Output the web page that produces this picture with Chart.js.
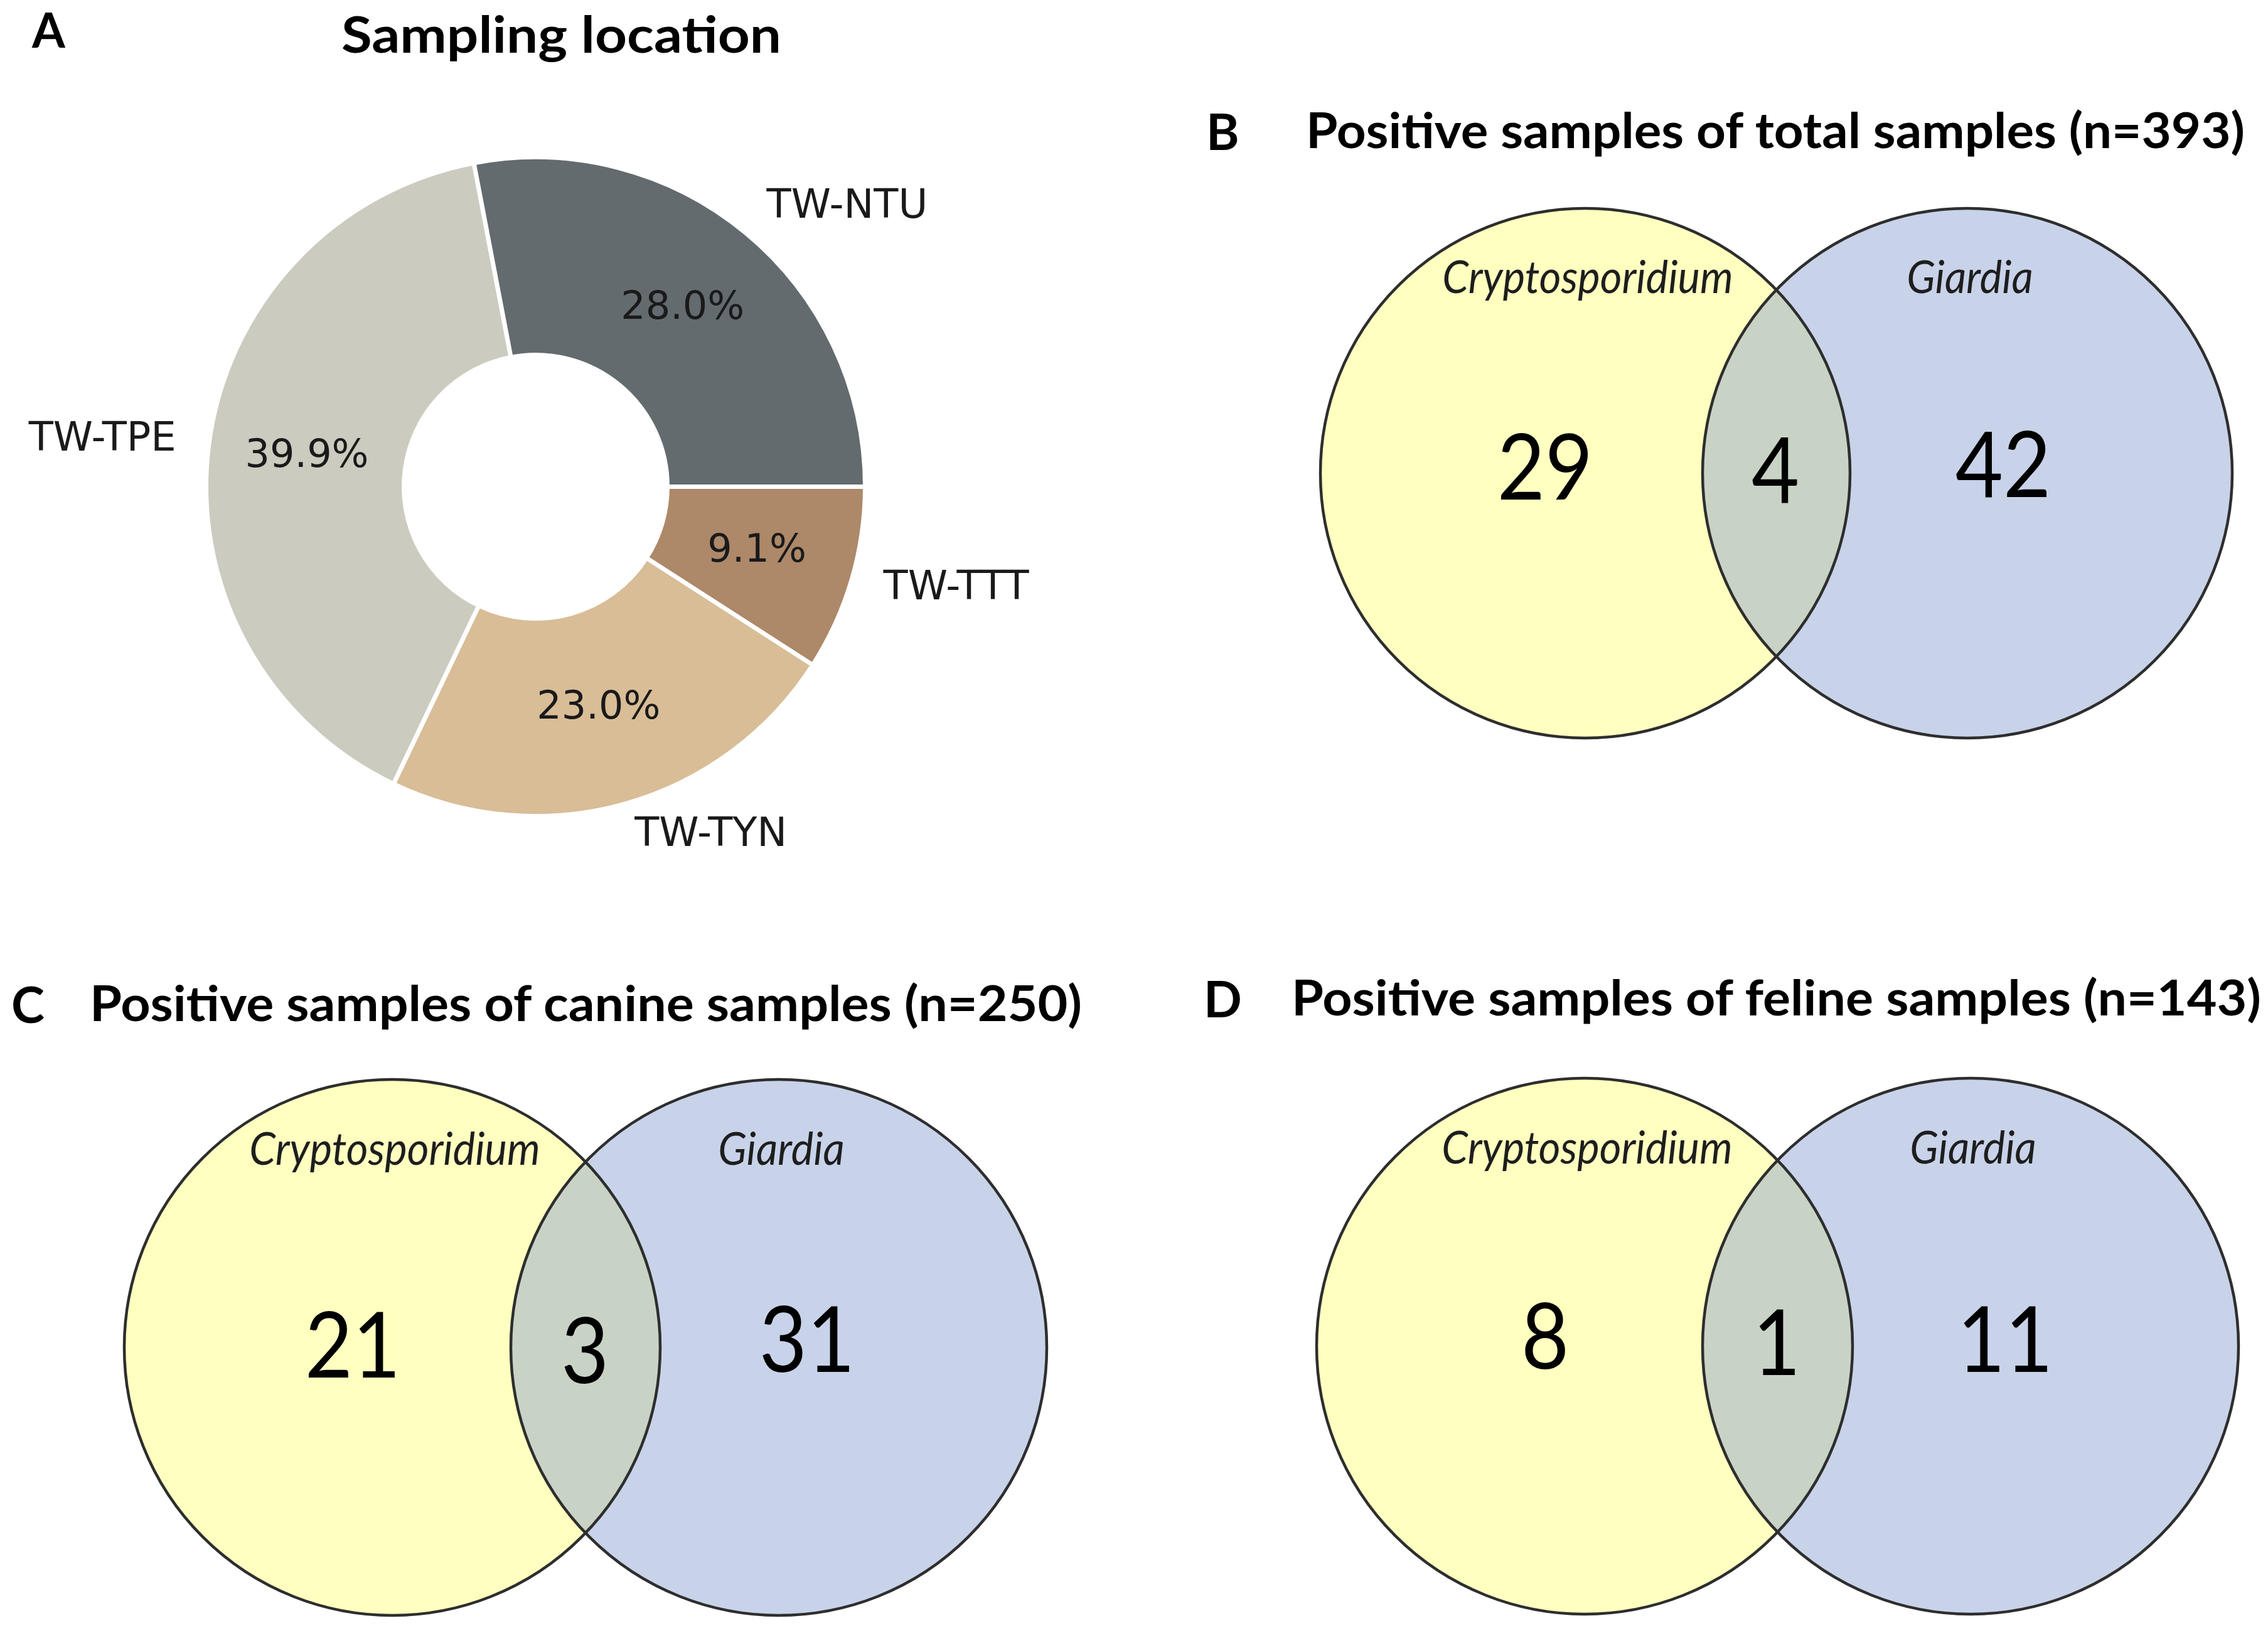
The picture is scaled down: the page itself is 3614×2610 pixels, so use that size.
<!DOCTYPE html>
<html>
<head>
<meta charset="utf-8">
<script src="https://cdn.jsdelivr.net/npm/chart.js@4.4.1/dist/chart.umd.min.js"></script>
<style>
  html, body { margin: 0; padding: 0; background: #fff; }
  body { width: 3614px; height: 2610px; position: relative; overflow: hidden; }
  canvas { position: absolute; }
  .head { position: absolute; font-family: Lato, sans-serif; font-weight: 700; line-height: 1;
          white-space: nowrap; color: #000; transform-origin: 0 0; z-index: 2; }
</style>
</head>
<body>
<canvas id="chartA" width="1800" height="1350" style="left:0px; top:100px"></canvas>
<canvas id="chartB" width="1564" height="920" style="left:2050px; top:300px"></canvas>
<canvas id="chartC" width="1600" height="930" style="left:150px; top:1680px"></canvas>
<canvas id="chartD" width="1564" height="930" style="left:2050px; top:1680px"></canvas>

<script>
// panel A: sampling location shares (%)
const locations = ['TW-NTU', 'TW-TPE', 'TW-TYN', 'TW-TTT'];
const locationShare = [28.0, 39.9, 23.0, 9.1];
const locationColors = ['#636b6f', '#cbcbbf', '#d8bd97', '#ad8869'];

// panels B-D: positive counts [Cryptosporidium only, both, Giardia only]
const setNames = ['Cryptosporidium', 'Giardia'];
const totalCounts = [29, 4, 42];
const canineCounts = [21, 3, 31];
const felineCounts = [8, 1, 11];

const headers = [
  { text: 'A', left: 51, base: 76, size: 76 },
  { text: 'Sampling location', left: 544, base: 84, size: 80, width: 701 },
  { text: 'B', left: 1922, base: 239, size: 80 },
  { text: 'Positive samples of total samples (n=393)', left: 2081, base: 236, size: 78, width: 1496 },
  { text: 'C', left: 18, base: 1630, size: 80 },
  { text: 'Positive samples of canine samples (n=250)', left: 143, base: 1627, size: 78, width: 1581 },
  { text: 'D', left: 1918, base: 1621, size: 80 },
  { text: 'Positive samples of feline samples (n=143)', left: 2058, base: 1618, size: 78, width: 1545 }
];

headers.forEach(h => {
  const el = document.createElement('div');
  el.className = 'head';
  el.textContent = h.text;
  el.style.fontSize = h.size + 'px';
  el.style.left = h.left + 'px';
  el.style.top = (h.base - 0.887 * h.size) + 'px';
  document.body.appendChild(el);
  if (h.width) {
    const w = el.getBoundingClientRect().width;
    el.style.transform = 'scaleX(' + (h.width / w) + ')';
  }
});

// ---------- donut (matplotlib-style: counter-clockwise from 3 o'clock) ----------
const cw = locations.map((_, i) => i).reverse();

const pieLabels = {
  id: 'pieLabels',
  afterDatasetsDraw(chart) {
    const ctx = chart.ctx;
    const ds = chart.data.datasets[0];
    chart.getDatasetMeta(0).data.forEach((arc, i) => {
      const p = arc.getProps(['x', 'y', 'startAngle', 'endAngle', 'outerRadius'], true);
      const mid = (p.startAngle + p.endAngle) / 2;
      const c = Math.cos(mid), s = Math.sin(mid);
      ctx.save();
      ctx.fillStyle = '#1a1a1a';
      ctx.font = '62px "DejaVu Sans"';
      ctx.textBaseline = 'middle';
      ctx.textAlign = 'center';
      ctx.fillText(ds.data[i].toFixed(1) + '%', p.x + c * p.outerRadius * 0.7, p.y + s * p.outerRadius * 0.7);
      ctx.font = '64px "DejaVu Sans"';
      ctx.textAlign = c >= 0 ? 'left' : 'right';
      ctx.fillText(chart.data.labels[i], p.x + c * p.outerRadius * 1.1, p.y + s * p.outerRadius * 1.1);
      ctx.restore();
    });
  }
};

new Chart(document.getElementById('chartA'), {
  type: 'doughnut',
  data: {
    labels: cw.map(i => locations[i]),
    datasets: [{
      data: cw.map(i => locationShare[i]),
      backgroundColor: cw.map(i => locationColors[i]),
      borderColor: '#ffffff',
      borderWidth: 7
    }]
  },
  options: {
    responsive: false,
    animation: false,
    events: [],
    rotation: 90,
    cutout: '40%',
    layout: { padding: { left: 325, right: 418, top: 147, bottom: 146 } },
    plugins: { legend: { display: false }, tooltip: { enabled: false } }
  },
  plugins: [pieLabels]
});

// ---------- Venn diagrams ----------
const vennPanels = [
  { id: 'chartB', counts: totalCounts, box: [2050, 300, 1564, 920],
    centers: [[2526, 754], [3135, 754]], radius: 422,
    countAt: [[2462, 749], [2829, 754], [3192, 745]] },
  { id: 'chartC', counts: canineCounts, box: [150, 1680, 1600, 930],
    centers: [[625, 2147], [1241, 2147]], radius: 427,
    countAt: [[562, 2148], [932, 2157], [1286, 2139]] },
  { id: 'chartD', counts: felineCounts, box: [2050, 1680, 1564, 930],
    centers: [[2525, 2145], [3140, 2145]], radius: 427,
    countAt: [[2462, 2134], [2831, 2144], [3195, 2139]] }
];

function squeezeText(ctx, text, x, y, sx) {
  ctx.save();
  ctx.translate(x, y);
  ctx.scale(sx, 1);
  ctx.fillText(text, 0, 0);
  ctx.restore();
}

const vennText = {
  id: 'vennText',
  afterDatasetsDraw(chart, args, opts) {
    const ctx = chart.ctx;
    ctx.save();
    ctx.textAlign = 'center';
    ctx.textBaseline = 'middle';
    // set names above each circle
    ctx.fillStyle = '#1e1e1e';
    ctx.font = 'italic 72px Lato';
    chart.getDatasetMeta(0).data.forEach((pt, i) => {
      const r = pt.options.radius;
      squeezeText(ctx, setNames[i], pt.x + 4, pt.y - 0.735 * r, 0.93);
    });
    // region counts
    ctx.fillStyle = '#000';
    ctx.font = '146px Lato';
    chart.getDatasetMeta(2).data.forEach((pt, i) => {
      squeezeText(ctx, String(opts.counts[i]), pt.x, pt.y, 0.9);
    });
    ctx.restore();
  }
};

vennPanels.forEach(p => {
  const [left, top, width, height] = p.box;
  const circles = p.centers.map(([x, y]) => ({ x, y }));
  new Chart(document.getElementById(p.id), {
    type: 'scatter',
    data: {
      datasets: [
        { label: 'sets', data: circles, pointRadius: p.radius, pointStyle: 'circle',
          pointBackgroundColor: ['#ffffc0', 'rgba(122,148,204,0.41)'], pointBorderWidth: 0,
          order: 3, clip: false },
        { label: 'outlines', data: circles, pointRadius: p.radius, pointStyle: 'circle',
          pointBackgroundColor: 'rgba(0,0,0,0)', pointBorderColor: '#2e2e2e', pointBorderWidth: 4.5,
          order: 2, clip: false },
        { label: 'regions', data: p.countAt.map(([x, y]) => ({ x, y })), pointRadius: 0,
          order: 1, clip: false }
      ]
    },
    options: {
      responsive: false,
      animation: false,
      events: [],
      layout: { padding: 0, autoPadding: false },
      plugins: { legend: { display: false }, tooltip: { enabled: false }, vennText: { counts: p.counts } },
      scales: {
        x: { type: 'linear', display: false, bounds: 'data', min: left, max: left + width },
        y: { type: 'linear', display: false, bounds: 'data', min: top, max: top + height, reverse: true }
      }
    },
    plugins: [vennText]
  });
});
</script>
</body>
</html>
